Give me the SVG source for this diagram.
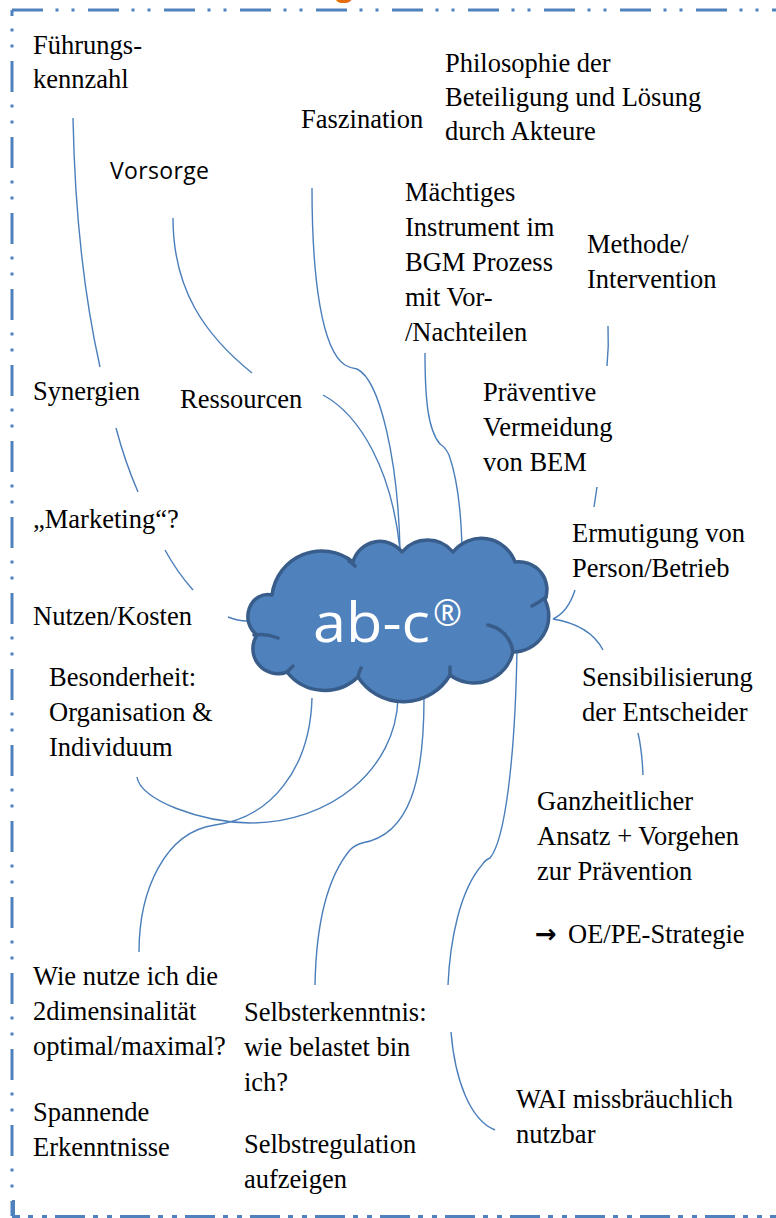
<svg xmlns="http://www.w3.org/2000/svg" width="776" height="1218" viewBox="0 0 776 1218">
<style>
.t{font-family:"Liberation Serif","Times New Roman",serif;font-size:26.5px;fill:#000}
.s{font-family:"Open Sans","Liberation Sans",sans-serif;font-size:23px;fill:#000}
.c{fill:none;stroke:#4a7ebb;stroke-width:1.4}
.b{fill:none;stroke:#4f81bd;stroke-width:3}
</style>
<rect width="776" height="1218" fill="#fff"/>
<g id="frame">
<text x="336" y="-4" style="font-family:'Open Sans','Liberation Sans',sans-serif;font-size:30px;font-weight:bold;fill:#e46c0a">g</text>
<path class="b" d="M12,10 H776" stroke-dasharray="31 12.5 3 13 3 13.5"/>
<path class="b" d="M12,10 V1216" stroke-dasharray="31 12.5 3 13 3 13.5" stroke-dashoffset="25"/>
<path class="b" d="M12,1216.5 H776" stroke-dasharray="30 8 5 9 5 8" stroke-dashoffset="22"/>
<path class="b" d="M13.5,1200 V1218"/>
</g>
<g id="connectors">
<path class="c" d="M73,118 C75,220 85,300 100,367"/>
<path class="c" d="M116,428 Q125,462 138,492"/>
<path class="c" d="M165,550 Q177,572 193,590"/>
<path class="c" d="M228,617 Q238,621 247,621"/>
<path class="c" d="M173,218 C173,290 205,335 252,373"/>
<path class="c" d="M323,395 C360,415 392,470 400,550"/>
<path class="c" d="M312,188 C312,280 322,350 345,365 Q350,368 357,369 C380,380 398,460 400,550"/>
<path class="c" d="M425,353 C425,400 428,430 440,444 Q446,448 449,455 C458,480 461,510 462,548"/>
<path class="c" d="M608,326 Q609,346 607,366"/>
<path class="c" d="M597,487 L594,507"/>
<path class="c" d="M575,590 Q568,612 553,619"/>
<path class="c" d="M553,619 Q590,625 603,650"/>
<path class="c" d="M638,733 Q642,750 643,775"/>
<path class="c" d="M312,698 C310,770 270,818 215,825 C165,832 139,890 139,952"/>
<path class="c" d="M137,777 C140,800 200,822 250,823 C330,823 396,770 398,698"/>
<path class="c" d="M424,698 C424,780 410,835 362,843 Q355,845 350,850 C325,880 316,930 315,985"/>
<path class="c" d="M517,650 C515,760 505,840 490,858 Q485,860 482,865 C460,890 450,940 448,985"/>
<path class="c" d="M451,1032 C455,1080 470,1120 495,1130"/>
</g>
<g id="cloud">
<path d="M257,635 A20 22 0 0 1 272,595 A50 50 0 0 1 353,562 A28 28 0 0 1 402,552 A33 33 0 0 1 453,552 A36 36 0 0 1 515,562 A28 28 0 0 1 545,600 A36 36 0 0 1 513,652 A40 40 0 0 1 450,675 A54 54 0 0 1 358,677 A48 48 0 0 1 287,672 A25 25 0 0 1 257,635 Z" fill="#4f81bd" stroke="#385d8a" stroke-width="3.5" stroke-linejoin="round"/>
<path d="M254,635 Q266,633 278,638 M349,561 Q352,563 355,566 M532,606 Q540,602 546,597 M488,625 Q509,630 513,652 M450,667 L450,676 M358,677 Q359,672 361,668 M287,672 Q290,669 293,666" fill="none" stroke="#385d8a" stroke-width="3.5" stroke-linecap="round"/>
<text y="642" style="font-family:'Open Sans','Liberation Sans',sans-serif;font-size:55px;fill:#fff"><tspan x="313" textLength="117" lengthAdjust="spacingAndGlyphs">ab-c</tspan><tspan x="433" y="626" textLength="29" lengthAdjust="spacingAndGlyphs" style="font-size:36px">®</tspan></text>
</g>
<g id="n-fuehrung"><text class="t"><tspan x="33" y="54">Führungs-</tspan><tspan x="33" y="88">kennzahl</tspan></text></g>
<g id="n-philosophie"><text class="t"><tspan x="445" y="72">Philosophie der</tspan><tspan x="445" y="106">Beteiligung und Lösung</tspan><tspan x="445" y="140">durch Akteure</tspan></text></g>
<g id="n-faszination"><text class="t" x="301" y="128">Faszination</text></g>
<g id="n-vorsorge"><text class="s" x="110" y="179" textLength="99">Vorsorge</text></g>
<g id="n-maechtig"><text class="t"><tspan x="405" y="201">Mächtiges</tspan><tspan x="405" y="236">Instrument im</tspan><tspan x="405" y="271">BGM Prozess</tspan><tspan x="405" y="306">mit Vor-</tspan><tspan x="405" y="341">/Nachteilen</tspan></text></g>
<g id="n-methode"><text class="t"><tspan x="587" y="253">Methode/</tspan><tspan x="587" y="288">Intervention</tspan></text></g>
<g id="n-praeventiv"><text class="t"><tspan x="483" y="401">Präventive</tspan><tspan x="483" y="436">Vermeidung</tspan><tspan x="483" y="471">von BEM</tspan></text></g>
<g id="n-ermutigung"><text class="t"><tspan x="572" y="542">Ermutigung von</tspan><tspan x="572" y="577">Person/Betrieb</tspan></text></g>
<g id="n-sensibilisierung"><text class="t"><tspan x="582" y="686">Sensibilisierung</tspan><tspan x="582" y="721">der Entscheider</tspan></text></g>
<g id="n-ganzheitlich"><text class="t"><tspan x="537" y="810">Ganzheitlicher</tspan><tspan x="537" y="845">Ansatz + Vorgehen</tspan><tspan x="537" y="880">zur Prävention</tspan></text>
<text class="t" y="943"><tspan x="535" style="font-family:'DejaVu Sans',sans-serif;font-size:26px;font-weight:bold">→</tspan><tspan x="568">OE/PE-Strategie</tspan></text></g>
<g id="n-synergien"><text class="t" x="33" y="400">Synergien</text></g>
<g id="n-ressourcen"><text class="t" x="180" y="408">Ressourcen</text></g>
<g id="n-marketing"><text class="t" x="33" y="528">„Marketing“?</text></g>
<g id="n-nutzen"><text class="t" x="33" y="625">Nutzen/Kosten</text></g>
<g id="n-besonderheit"><text class="t"><tspan x="49" y="686">Besonderheit:</tspan><tspan x="49" y="721">Organisation &amp;</tspan><tspan x="49" y="756">Individuum</tspan></text></g>
<g id="n-wienutze"><text class="t"><tspan x="33" y="985">Wie nutze ich die</tspan><tspan x="33" y="1020">2dimensinalität</tspan><tspan x="33" y="1055">optimal/maximal?</tspan></text></g>
<g id="n-spannend"><text class="t"><tspan x="33" y="1121">Spannende</tspan><tspan x="33" y="1156">Erkenntnisse</tspan></text></g>
<g id="n-selbsterkenntnis"><text class="t"><tspan x="244" y="1021">Selbsterkenntnis:</tspan><tspan x="244" y="1056">wie belastet bin</tspan><tspan x="244" y="1091">ich?</tspan></text></g>
<g id="n-selbstregulation"><text class="t"><tspan x="244" y="1153">Selbstregulation</tspan><tspan x="244" y="1188">aufzeigen</tspan></text></g>
<g id="n-wai"><text class="t"><tspan x="516" y="1108">WAI missbräuchlich</tspan><tspan x="516" y="1143">nutzbar</tspan></text></g>
</svg>
